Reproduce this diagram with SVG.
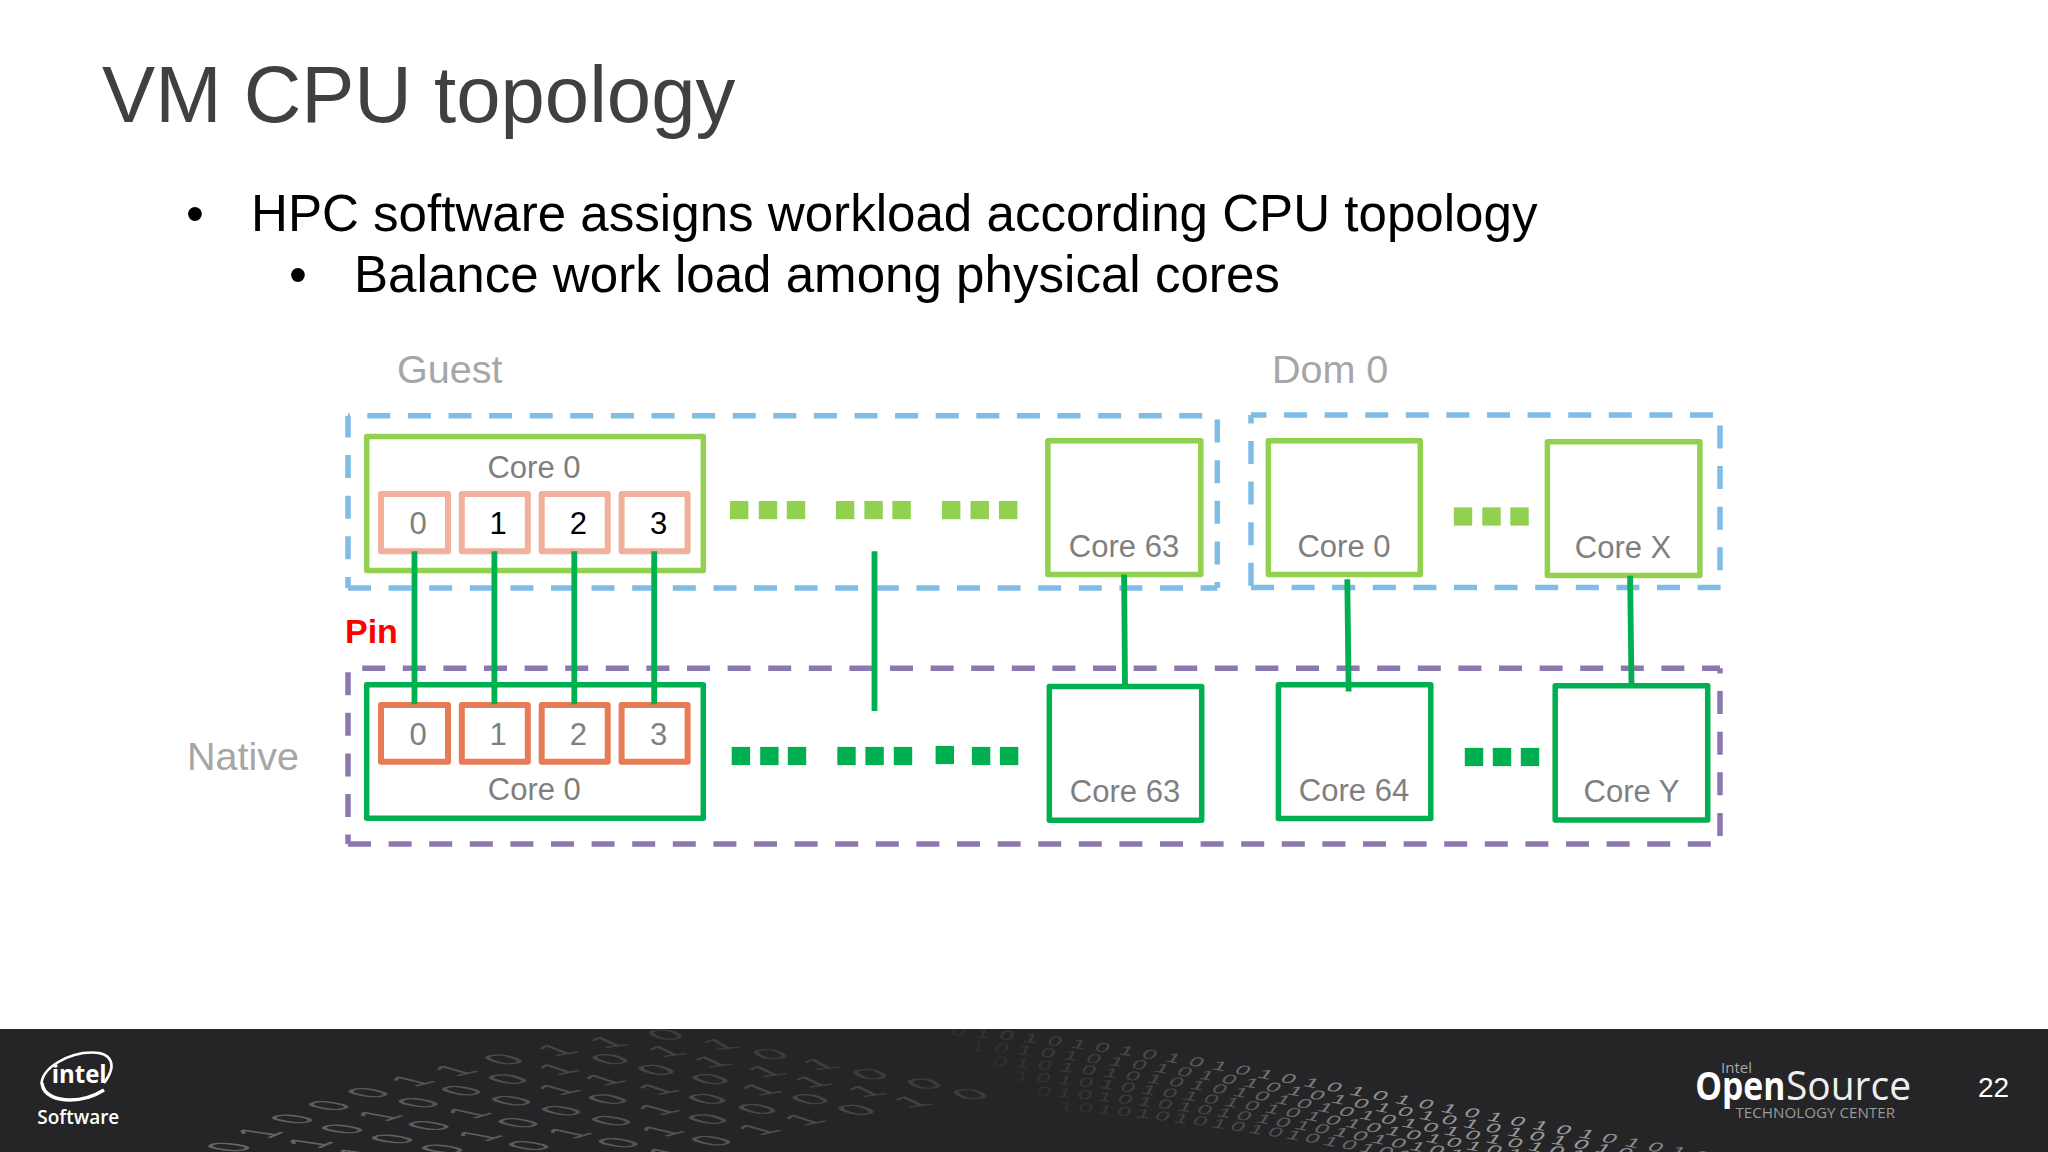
<svg xmlns="http://www.w3.org/2000/svg" width="2048" height="1152" viewBox="0 0 2048 1152">
<style>
text{font-family:"Liberation Sans",Arial,sans-serif}
.t{fill:#404040;font-size:79.7px}
.b{fill:#000;font-size:51.1px}
.h{fill:#a6a6a6;font-size:39.5px}
.c{fill:#7f7f7f;font-size:31px;text-anchor:middle}
.k{fill:#000;font-size:31px;text-anchor:middle}
.bl,.pu{fill:none;stroke-width:5.5;stroke-dasharray:23 17.6}
.bl{stroke:#7fbde6}.pu{stroke:#8a78ae}
.lg,.dg{fill:none;stroke-width:5.5;stroke-linejoin:round}
.lg{stroke:#92d050}.dg{stroke:#00b050}
.sg,.sn{fill:none;stroke-width:6;stroke-linejoin:round}
.sg{stroke:#f0b09c}.sn{stroke:#e77b56}
.dl{fill:#92d050}.dd{fill:#00b050}
.w{stroke:#00b050;stroke-width:5.8;fill:none}
.lr{font-size:60px;letter-spacing:30px;fill:url(#gl)}
.rr{font-size:26px;fill:url(#gr)}
.os{font-family:"Open Sans","Liberation Sans",sans-serif}
</style>
<defs>
<linearGradient id="gl" gradientUnits="userSpaceOnUse" x1="240" y1="0" x2="900" y2="0"><stop offset="0" stop-color="#666"/><stop offset="0.45" stop-color="#464646"/><stop offset="1" stop-color="#2c2c2c"/></linearGradient>
<linearGradient id="gr" gradientUnits="userSpaceOnUse" x1="950" y1="0" x2="1760" y2="0"><stop offset="0" stop-color="#2e2e2e"/><stop offset="0.25" stop-color="#4c4c4c"/><stop offset="0.5" stop-color="#8f8f8f"/><stop offset="0.75" stop-color="#a0a0a0"/><stop offset="1" stop-color="#666"/></linearGradient>
<clipPath id="fc"><rect x="0" y="1029" width="2048" height="123"/></clipPath>
<path id="pl" d="M240 496C320 330 460 130 700 30"/>
<path id="pr" d="M950 12C1050 26 1180 68 1255 96S1400 150 1550 206S1660 248 1720 270"/>
</defs>
<rect width="2048" height="1152" fill="#fff"/>
<g id="heading">
<text class="t" x="102" y="122">VM CPU topology</text>
<text class="b" x="186" y="231">•</text>
<text class="b" x="251" y="231">HPC software assigns workload according CPU topology</text>
<text class="b" x="289" y="292">•</text>
<text class="b" x="354" y="292">Balance work load among physical cores</text>
</g>
<g id="regions">
<path class="bl" stroke-dashoffset="1.3" d="M348 415.8V588"/>
<path class="bl" stroke-dashoffset="21.3" d="M348 415.8H1205"/>
<path class="bl" stroke-dashoffset="36.8" d="M1217.3 415.8V588"/>
<path class="bl" d="M348 588H1217.3"/>
<path class="bl" stroke-dashoffset="14.7" d="M1251 415.1V587.4"/>
<path class="bl" stroke-dashoffset="7.6" d="M1251 415.1H1715"/>
<path class="bl" stroke-dashoffset="30.2" d="M1720 415.1V572"/>
<path class="bl" d="M1251 587.4H1722"/>
<path class="pu" stroke-dashoffset="36.6" d="M348 668.2V843.9"/>
<path class="pu" stroke-dashoffset="26.4" d="M348 668.2H1720"/>
<path class="pu" stroke-dashoffset="17.7" d="M1720 668.2V836"/>
<path class="pu" d="M348 843.9H1712"/>
<text class="h" x="397" y="383">Guest</text>
<text class="h" x="1272" y="383">Dom 0</text>
<text class="h" x="187" y="770">Native</text>
<text x="345" y="643" fill="#ff0000" font-size="34" font-weight="700">Pin</text>
</g>
<g id="guest-core-0">
<rect class="lg" x="366.7" y="436.4" width="336.6" height="134.1"/>
<text class="c" x="534" y="478">Core 0</text>
<rect class="sg" x="381" y="493.9" width="67" height="57.4"/><text class="c" x="418" y="534">0</text>
<rect class="sg" x="461.8" y="493.9" width="66" height="57.4"/><text class="k" x="498" y="534">1</text>
<rect class="sg" x="541.7" y="493.9" width="66" height="57.4"/><text class="k" x="578.4" y="534">2</text>
<rect class="sg" x="621.6" y="493.9" width="66" height="57.4"/><text class="k" x="658.7" y="534">3</text>
</g>
<g id="guest-dots">
<rect class="dl" x="730" y="501" width="18.4" height="18.2"/><rect class="dl" x="758.8" y="501" width="18.4" height="18.2"/><rect class="dl" x="786.8" y="501" width="18.4" height="18.2"/>
<rect class="dl" x="835.9" y="501" width="18.4" height="18.2"/><rect class="dl" x="864.4" y="501" width="18.4" height="18.2"/><rect class="dl" x="892.4" y="501" width="18.4" height="18.2"/>
<rect class="dl" x="942" y="501" width="18.4" height="18.2"/><rect class="dl" x="970.5" y="501" width="18.4" height="18.2"/><rect class="dl" x="999" y="501" width="18.4" height="18.2"/>
</g>
<g id="guest-core-63"><rect class="lg" x="1047.9" y="440.8" width="152.9" height="133.8"/><text class="c" x="1124" y="557">Core 63</text></g>
<g id="dom0-core-0"><rect class="lg" x="1268.3" y="440.8" width="152" height="133.8"/><text class="c" x="1344" y="557">Core 0</text></g>
<g id="dom0-dots">
<rect class="dl" x="1453.8" y="507.4" width="18.4" height="18.2"/><rect class="dl" x="1482.3" y="507.4" width="18.4" height="18.2"/><rect class="dl" x="1510.3" y="507.4" width="18.4" height="18.2"/>
</g>
<g id="dom0-core-x"><rect class="lg" x="1547.4" y="441.8" width="152.5" height="133.8"/><text class="c" x="1623" y="558">Core X</text></g>
<g id="native-core-0">
<rect class="dg" x="366.7" y="684.7" width="336.6" height="133.5"/>
<text class="c" x="534.3" y="800.3">Core 0</text>
<rect class="sn" x="381" y="705" width="67" height="56.8"/><text class="c" x="418" y="745">0</text>
<rect class="sn" x="461.8" y="705" width="66" height="56.8"/><text class="c" x="498" y="745">1</text>
<rect class="sn" x="541.7" y="705" width="66" height="56.8"/><text class="c" x="578.4" y="745">2</text>
<rect class="sn" x="621.6" y="705" width="66" height="56.8"/><text class="c" x="658.7" y="745">3</text>
</g>
<g id="native-dots">
<rect class="dd" x="731.7" y="746.9" width="18.4" height="18.2"/><rect class="dd" x="760.2" y="746.9" width="18.4" height="18.2"/><rect class="dd" x="787.8" y="746.9" width="18.4" height="18.2"/>
<rect class="dd" x="837.3" y="746.9" width="18.4" height="18.2"/><rect class="dd" x="865.4" y="746.9" width="18.4" height="18.2"/><rect class="dd" x="893.8" y="746.9" width="18.4" height="18.2"/>
<rect class="dd" x="935.6" y="745.9" width="18.4" height="18.2"/><rect class="dd" x="971.9" y="746.9" width="18.4" height="18.2"/><rect class="dd" x="999.9" y="746.9" width="18.4" height="18.2"/>
</g>
<g id="native-core-63"><rect class="dg" x="1049.3" y="686.4" width="152.4" height="133.8"/><text class="c" x="1125" y="802">Core 63</text></g>
<g id="native-core-64"><rect class="dg" x="1278.4" y="684.7" width="152.4" height="133.8"/><text class="c" x="1354" y="800.5">Core 64</text></g>
<g id="native-dots-2">
<rect class="dd" x="1464.8" y="747.9" width="18.4" height="18.2"/><rect class="dd" x="1492.8" y="747.9" width="18.4" height="18.2"/><rect class="dd" x="1520.8" y="747.9" width="18.4" height="18.2"/>
</g>
<g id="native-core-y"><rect class="dg" x="1555.2" y="685.7" width="152.5" height="134.2"/><text class="c" x="1631.5" y="802">Core Y</text></g>
<g id="connectors">
<path class="w" d="M414.5 551.3V704.3"/>
<path class="w" d="M494.4 551.3V704.3"/>
<path class="w" d="M574.3 551.3V704.3"/>
<path class="w" d="M654.2 551.3V704.3"/>
<path class="w" d="M874.5 551.3V711.1"/>
<path class="w" d="M1124.1 574.6L1125 684.7"/>
<path class="w" d="M1347.3 579.3L1348.6 691.5"/>
<path class="w" d="M1630.1 575.6L1631.5 684.7"/>
</g>
<g id="footer">
<rect x="0" y="1029" width="2048" height="123" fill="#252426"/>
<g clip-path="url(#fc)">
<g transform="translate(0 1029) scale(1 .25)">
<text class="lr"><textPath href="#pl">0100011011011101</textPath></text>
<text class="lr" transform="translate(50 40)"><textPath href="#pl">0101000101101101</textPath></text>
<text class="lr" transform="translate(100 80)"><textPath href="#pl">0100101101011011</textPath></text>
<text class="lr" transform="translate(150 120)"><textPath href="#pl">0101000101101101</textPath></text>
<text class="lr" transform="translate(200 160)"><textPath href="#pl">0100101011011101</textPath></text>
<text class="lr" transform="translate(250 200)"><textPath href="#pl">0101010001011011</textPath></text>
<text class="lr" transform="translate(300 240)"><textPath href="#pl">0100101101011011</textPath></text>
</g>
<g transform="translate(0 1029) scale(1 .5)">
<text class="rr" letter-spacing="10"><textPath href="#pr">010101010101010101010101010101010</textPath></text>
<text class="rr" letter-spacing="9" transform="translate(20 30)"><textPath href="#pr">1010101010101010101010101010101010</textPath></text>
<text class="rr" letter-spacing="8" transform="translate(42 60)"><textPath href="#pr">010101010101010101010101010101010101</textPath></text>
<text class="rr" letter-spacing="7" transform="translate(64 90)"><textPath href="#pr">1010101010101010101010101010101010101</textPath></text>
<text class="rr" letter-spacing="6" transform="translate(86 120)"><textPath href="#pr">0101010101010101010101010101010101010101</textPath></text>
<text class="rr" letter-spacing="5" transform="translate(108 150)"><textPath href="#pr">10101010101010101010101010101010101010</textPath></text>
</g>
</g>
<g id="intel-logo">
<path d="M41.5 1084C42 1068 68 1052.5 92 1052.5C113 1052.5 117 1066 104 1083" fill="none" stroke="#fff" stroke-width="2.6"/>
<path d="M42 1083C43 1096 58 1100 70 1100C84 1100 96 1095 104 1090" fill="none" stroke="#fff" stroke-width="3.4"/>
<text class="os" x="51.7" y="1082.7" fill="#fff" font-size="25" font-weight="700" textLength="55" lengthAdjust="spacingAndGlyphs">intel</text>
<text class="os" x="37.3" y="1124" fill="#fff" font-size="20" font-weight="600" textLength="82" lengthAdjust="spacingAndGlyphs">Software</text>
</g>
<g id="open-source-logo">
<text class="os" x="1721" y="1072.7" fill="#a8a8a8" font-size="15" textLength="31" lengthAdjust="spacingAndGlyphs">Intel</text>
<text class="os" x="1695.3" y="1100" fill="#fff" font-size="40" font-weight="700" textLength="90" lengthAdjust="spacingAndGlyphs">Open</text>
<text class="os" x="1786" y="1100" fill="#eee" font-size="40" textLength="125" lengthAdjust="spacingAndGlyphs">Source</text>
<text class="os" x="1735.5" y="1118" fill="#9a9a9a" font-size="15" textLength="159.5" lengthAdjust="spacingAndGlyphs">TECHNOLOGY CENTER</text>
</g>
<text id="page-number" x="1978" y="1097" fill="#fff" font-size="28">22</text>
</g>
</svg>
